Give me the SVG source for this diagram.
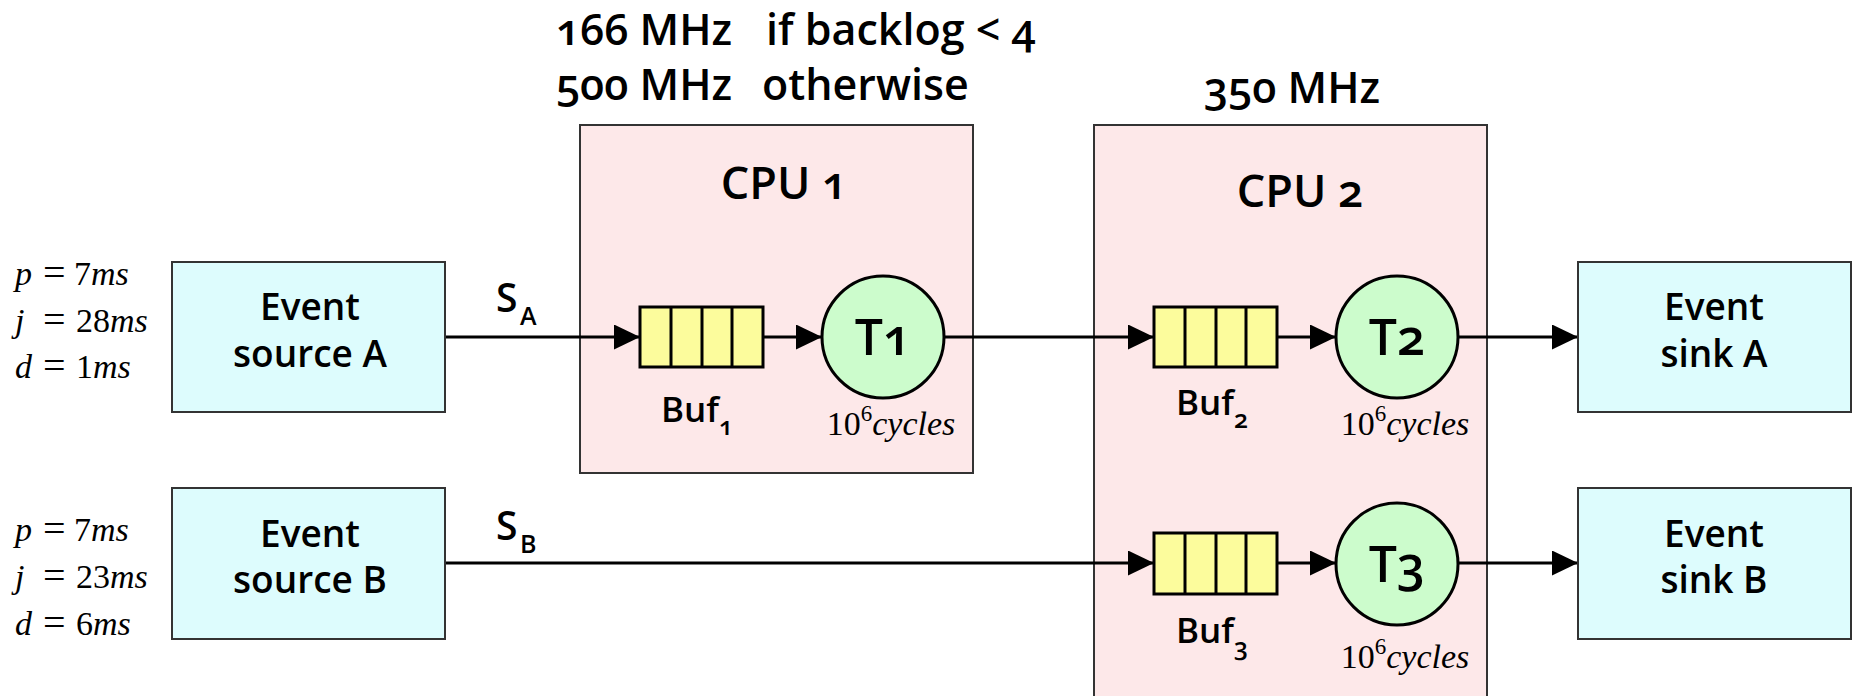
<svg xmlns="http://www.w3.org/2000/svg" width="1855" height="696" viewBox="0 0 1855 696">
<defs>
<style>
.lbl{font-family:"Open Sans","Noto Sans",sans-serif;font-weight:600;fill:#000;font-variant-numeric:oldstyle-nums;}
.math{font-family:"Liberation Serif","Times New Roman",serif;fill:#000;}
.it{font-style:italic;}
.eq{font-size:40px;}
.cpu{fill:#fde8e9;stroke:#333;stroke-width:2;}
.ev{fill:#ddfcfd;stroke:#333;stroke-width:2;}
.buf{fill:#fcfc9c;stroke:#000;stroke-width:3;}
.task{fill:#ccfccc;stroke:#000;stroke-width:3;}
.conn{stroke:#000;stroke-width:3;fill:none;marker-end:url(#arr);}
</style>
<marker id="arr" markerUnits="userSpaceOnUse" markerWidth="27" markerHeight="26" refX="26" refY="12.5" orient="auto">
<path d="M0,0 L26,12.5 L0,25 Z" fill="#000"/>
</marker>
</defs>
<rect width="1855" height="696" fill="#fff"/>

<g id="freq1">
<text class="lbl" font-size="43" x="556" y="45">166 MHz</text>
<text class="lbl" font-size="43" x="766" y="45">if backlog &lt; 4</text>
<text class="lbl" font-size="43" x="556" y="100">500 MHz</text>
<text class="lbl" font-size="43" x="762" y="100">otherwise</text>
</g>
<g id="freq2">
<text class="lbl" font-size="43" x="1204" y="103">350 MHz</text>
</g>

<g id="cpu1">
<rect class="cpu" x="580" y="125" width="393" height="348"/>
<text class="lbl" font-size="45" x="784" y="199" text-anchor="middle">CPU 1</text>
</g>
<g id="cpu2">
<rect class="cpu" x="1094" y="125" width="393" height="600"/>
<text class="lbl" font-size="45" x="1300" y="207" text-anchor="middle">CPU 2</text>
</g>

<g id="connectors">
<path class="conn" d="M445,337 H640"/>
<path class="conn" d="M763,337 H822"/>
<path class="conn" d="M944,337 H1154"/>
<path class="conn" d="M1277,337 H1336"/>
<path class="conn" d="M1458,337 H1578"/>
<path class="conn" d="M445,563 H1154"/>
<path class="conn" d="M1277,563 H1336"/>
<path class="conn" d="M1458,563 H1578"/>
<text class="lbl" font-size="39" x="496" y="312">S</text>
<text class="lbl" font-size="25" x="520" y="325">A</text>
<text class="lbl" font-size="39" x="496" y="540">S</text>
<text class="lbl" font-size="25" x="520" y="553">B</text>
</g>

<g id="paramsA" class="math" font-size="34">
<text x="15" y="285"><tspan class="it">p</tspan><tspan class="eq" x="43" dy="1">=</tspan><tspan x="74" dy="-1">7</tspan><tspan class="it">ms</tspan></text>
<text x="15" y="332"><tspan class="it">j</tspan><tspan class="eq" x="43" dy="1">=</tspan><tspan x="76" dy="-1">28</tspan><tspan class="it">ms</tspan></text>
<text x="15" y="378"><tspan class="it">d</tspan><tspan class="eq" x="43" dy="1">=</tspan><tspan x="76" dy="-1">1</tspan><tspan class="it">ms</tspan></text>
</g>
<g id="paramsB" class="math" font-size="34">
<text x="15" y="541"><tspan class="it">p</tspan><tspan class="eq" x="43" dy="1">=</tspan><tspan x="74" dy="-1">7</tspan><tspan class="it">ms</tspan></text>
<text x="15" y="588"><tspan class="it">j</tspan><tspan class="eq" x="43" dy="1">=</tspan><tspan x="76" dy="-1">23</tspan><tspan class="it">ms</tspan></text>
<text x="15" y="635"><tspan class="it">d</tspan><tspan class="eq" x="43" dy="1">=</tspan><tspan x="76" dy="-1">6</tspan><tspan class="it">ms</tspan></text>
</g>

<g id="sourceA">
<rect class="ev" x="172" y="262" width="273" height="150"/>
<text class="lbl" font-size="37" x="310" y="320" text-anchor="middle">Event</text>
<text class="lbl" font-size="37" x="310" y="367" text-anchor="middle">source A</text>
</g>
<g id="sourceB">
<rect class="ev" x="172" y="488" width="273" height="151"/>
<text class="lbl" font-size="37" x="310" y="547" text-anchor="middle">Event</text>
<text class="lbl" font-size="37" x="310" y="593" text-anchor="middle">source B</text>
</g>
<g id="sinkA">
<rect class="ev" x="1578" y="262" width="273" height="150"/>
<text class="lbl" font-size="37" x="1714" y="320" text-anchor="middle">Event</text>
<text class="lbl" font-size="37" x="1714" y="367" text-anchor="middle">sink A</text>
</g>
<g id="sinkB">
<rect class="ev" x="1578" y="488" width="273" height="151"/>
<text class="lbl" font-size="37" x="1714" y="547" text-anchor="middle">Event</text>
<text class="lbl" font-size="37" x="1714" y="593" text-anchor="middle">sink B</text>
</g>

<g id="buf1">
<rect class="buf" x="640" y="307" width="123" height="60"/>
<path d="M671,307 V367 M702,307 V367 M732,307 V367" stroke="#000" stroke-width="3"/>
<text class="lbl" font-size="35" x="661" y="422">Buf<tspan font-size="25" dy="13">1</tspan></text>
</g>
<g id="buf2">
<rect class="buf" x="1154" y="307" width="123" height="60"/>
<path d="M1185,307 V367 M1216,307 V367 M1246,307 V367" stroke="#000" stroke-width="3"/>
<text class="lbl" font-size="35" x="1176" y="415">Buf<tspan font-size="25" dy="13">2</tspan></text>
</g>
<g id="buf3">
<rect class="buf" x="1154" y="533" width="123" height="61"/>
<path d="M1185,533 V594 M1216,533 V594 M1246,533 V594" stroke="#000" stroke-width="3"/>
<text class="lbl" font-size="35" x="1176" y="643">Buf<tspan font-size="25" dy="13">3</tspan></text>
</g>

<g id="t1">
<circle class="task" cx="883" cy="337" r="61"/>
<text class="lbl" font-size="50" x="883" y="355" text-anchor="middle">T1</text>
<text class="math" font-size="34" x="891" y="435" text-anchor="middle">10<tspan font-size="23" dy="-14">6</tspan><tspan class="it" dy="14">cycles</tspan></text>
</g>
<g id="t2">
<circle class="task" cx="1397" cy="337" r="61"/>
<text class="lbl" font-size="50" x="1397" y="355" text-anchor="middle">T2</text>
<text class="math" font-size="34" x="1405" y="435" text-anchor="middle">10<tspan font-size="23" dy="-14">6</tspan><tspan class="it" dy="14">cycles</tspan></text>
</g>
<g id="t3">
<circle class="task" cx="1397" cy="564" r="61"/>
<text class="lbl" font-size="50" x="1397" y="582" text-anchor="middle">T3</text>
<text class="math" font-size="34" x="1405" y="668" text-anchor="middle">10<tspan font-size="23" dy="-14">6</tspan><tspan class="it" dy="14">cycles</tspan></text>
</g>
</svg>
